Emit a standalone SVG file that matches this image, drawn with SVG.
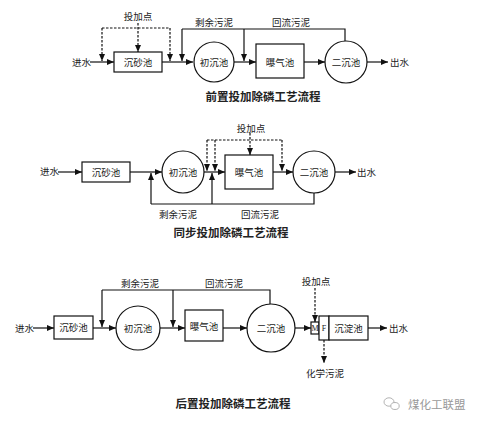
<svg xmlns="http://www.w3.org/2000/svg" width="479" height="429" viewBox="0 0 479 429">
<defs>
<marker id="ah" markerWidth="7" markerHeight="6" refX="7" refY="3" orient="auto" markerUnits="userSpaceOnUse">
<path d="M0,0 L7,3 L0,6 z" fill="#111"/>
</marker>
<style>
.ln{fill:none;stroke:#111;stroke-width:1.2}
.ar{fill:none;stroke:#111;stroke-width:1.2;marker-end:url(#ah)}
.da{fill:none;stroke:#111;stroke-width:1.2;stroke-dasharray:2.5,1.5;marker-end:url(#ah)}
.dl{fill:none;stroke:#111;stroke-width:1.2;stroke-dasharray:2.5,1.5}
.bx{fill:#fff;stroke:#111;stroke-width:1.2}
.t{font-family:"Noto Sans CJK SC","Noto Sans CJK JP",sans-serif;font-size:9.5px;fill:#222}
.c{text-anchor:middle}
.ti{font-family:"Noto Sans CJK SC","Noto Sans CJK JP",sans-serif;font-size:11.5px;font-weight:bold;fill:#222;text-anchor:middle}
.s{font-family:"Liberation Serif",serif;font-size:8px;fill:#222;text-anchor:middle}
</style>
</defs>
<rect width="479" height="429" fill="#fff"/>

<!-- Diagram 1 -->
<g id="connectors1">
<path class="ar" d="M90,62 L114,62"/>
<path class="ar" d="M162,62 L193,62"/>
<path class="ar" d="M234,62 L256,62"/>
<path class="ar" d="M304,62 L325,62"/>
<path class="ar" d="M367,62 L388,62"/>
<path class="dl" d="M102,28 L170,28"/>
<path class="da" d="M102,28 L102,61"/>
<path class="da" d="M170,28 L170,61"/>
<path class="da" d="M138,23 L138,52"/>
<path class="ln" d="M345,41 L345,29 L182,29"/>
<path class="ar" d="M182,29 L182,61"/>
<path class="ar" d="M244,29 L244,61"/>
</g>
<g id="d1-in"><text class="t" x="72" y="65.5">进水</text></g>
<g id="d1-sand"><rect class="bx" x="114" y="52" width="48" height="20"/><text class="t c" x="138" y="65.5">沉砂池</text></g>
<g id="d1-prim"><circle class="bx" cx="214" cy="62" r="20"/><text class="t c" x="214" y="65.5">初沉池</text></g>
<g id="d1-aer"><rect class="bx" x="256" y="44" width="48" height="34"/><text class="t c" x="280" y="65.5">曝气池</text></g>
<g id="d1-sec"><circle class="bx" cx="346" cy="62" r="21"/><text class="t c" x="346" y="65.5">二沉池</text></g>
<g id="d1-out"><text class="t" x="390" y="65.5">出水</text></g>
<g id="d1-labels">
<text class="t c" x="138" y="19.5">投加点</text>
<text class="t c" x="214" y="25.5">剩余污泥</text>
<text class="t c" x="291" y="25.5">回流污泥</text>
<text class="ti" x="263" y="101">前置投加除磷工艺流程</text>
</g>

<!-- Diagram 2 -->
<g id="connectors2">
<path class="ar" d="M58,172 L82,172"/>
<path class="ar" d="M130,172 L162,172"/>
<path class="ar" d="M204,172 L225,172"/>
<path class="ar" d="M273,172 L293,172"/>
<path class="ar" d="M335,172 L356,172"/>
<path class="ln" d="M314,193 L314,204 L151,204"/>
<path class="ar" d="M151,204 L151,173"/>
<path class="ar" d="M212,204 L212,173"/>
<path class="dl" d="M207,140 L282,140"/>
<path class="da" d="M207,140 L207,171"/>
<path class="da" d="M215,140 L215,171"/>
<path class="da" d="M282,140 L282,171"/>
<path class="da" d="M250,133 L250,155"/>
</g>
<g id="d2-in"><text class="t" x="40" y="175">进水</text></g>
<g id="d2-sand"><rect class="bx" x="82" y="162" width="48" height="20"/><text class="t c" x="106" y="175.5">沉砂池</text></g>
<g id="d2-prim"><circle class="bx" cx="183" cy="172" r="21"/><text class="t c" x="183" y="175.5">初沉池</text></g>
<g id="d2-aer"><rect class="bx" x="225" y="155" width="48" height="34"/><text class="t c" x="249" y="175.5">曝气池</text></g>
<g id="d2-sec"><circle class="bx" cx="314" cy="172" r="21"/><text class="t c" x="314" y="175.5">二沉池</text></g>
<g id="d2-out"><text class="t" x="357" y="175.5">出水</text></g>
<g id="d2-labels">
<text class="t c" x="251" y="132">投加点</text>
<text class="t c" x="178" y="217.5">剩余污泥</text>
<text class="t c" x="260" y="217.5">回流污泥</text>
<text class="ti" x="231" y="237">同步投加除磷工艺流程</text>
</g>

<!-- Diagram 3 -->
<g id="connectors3">
<path class="ar" d="M33,328 L54,328"/>
<path class="ar" d="M93,328 L116,328"/>
<path class="ar" d="M160,328 L185,328"/>
<path class="ar" d="M223,328 L247,328"/>
<path class="ar" d="M295,328 L311,328"/>
<path class="ar" d="M368,328 L387,328"/>
<path class="ln" d="M270,304 L270,290 L102,290"/>
<path class="ar" d="M102,290 L102,327"/>
<path class="ar" d="M173,290 L173,327"/>
<path class="da" d="M315,288 L315,322"/>
<path class="da" d="M324,340 L324,363"/>
</g>
<g id="d3-in"><text class="t" x="15" y="331.5">进水</text></g>
<g id="d3-sand"><rect class="bx" x="54" y="316" width="39" height="23"/><text class="t c" x="73.5" y="331">沉砂池</text></g>
<g id="d3-prim"><circle class="bx" cx="138" cy="328" r="22"/><text class="t c" x="138" y="331.5">初沉池</text></g>
<g id="d3-aer"><rect class="bx" x="185" y="310" width="38" height="31"/><text class="t c" x="204" y="329.5">曝气池</text></g>
<g id="d3-sec"><circle class="bx" cx="271" cy="328" r="24"/><text class="t c" x="271" y="331.5">二沉池</text></g>
<g id="d3-m"><rect class="bx" x="311" y="322" width="8" height="12"/><text class="s" x="315" y="331">M</text></g>
<g id="d3-f"><rect class="bx" x="319" y="316" width="10" height="24"/><text class="s" x="324" y="331">F</text></g>
<g id="d3-set"><rect class="bx" x="329" y="316" width="39" height="24"/><text class="t c" x="348.5" y="331.5">沉淀池</text></g>
<g id="d3-out"><text class="t" x="389" y="331.5">出水</text></g>
<g id="d3-labels">
<text class="t c" x="316" y="284.5">投加点</text>
<text class="t c" x="140" y="286.5">剩余污泥</text>
<text class="t c" x="224" y="286.5">回流污泥</text>
<text class="t c" x="325" y="376.5">化学污泥</text>
<text class="ti" x="233" y="408">后置投加除磷工艺流程</text>
</g>

<!-- watermark -->
<g id="watermark">
<ellipse cx="389" cy="402" rx="5" ry="4.2" fill="none" stroke="#aaa" stroke-width="0.9"/>
<ellipse cx="395" cy="406" rx="4.2" ry="3.5" fill="#fff" stroke="#aaa" stroke-width="0.9"/>
<text x="408" y="408.5" style="font-family:'Noto Sans CJK SC',sans-serif;font-size:11.5px;fill:#999">煤化工联盟</text>
</g>
</svg>
